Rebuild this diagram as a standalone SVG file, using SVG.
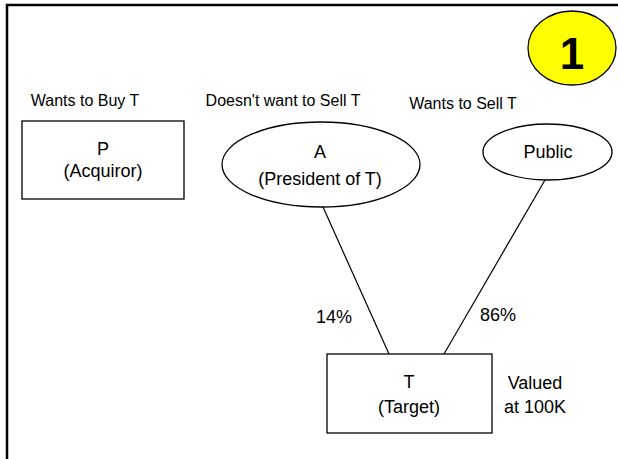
<svg xmlns="http://www.w3.org/2000/svg" width="618" height="459" viewBox="0 0 618 459">
<style>
text{font-family:"Liberation Sans",Arial,sans-serif;fill:#000}
.lbl{font-size:16px}
.nt{font-size:18px;text-anchor:middle}
.box{fill:#fff;stroke:#000;stroke-width:1.3}
.con{stroke:#000;stroke-width:1.2;fill:none}
</style>
<rect x="0" y="0" width="618" height="459" fill="#fff"/>
<rect id="frame" x="7" y="5" width="640" height="480" fill="none" stroke="#000" stroke-width="2.5"/>
<g id="badge">
<ellipse cx="572" cy="48" rx="44" ry="37" fill="#ffff00" stroke="#000" stroke-width="1.3"/>
<text x="572" y="69" font-size="44" font-weight="bold" text-anchor="middle">1</text>
</g>
<g id="labels" class="lbl">
<text x="85" y="106" text-anchor="middle">Wants to Buy T</text>
<text x="283" y="106" text-anchor="middle">Doesn't want to Sell T</text>
<text x="463" y="109" text-anchor="middle">Wants to Sell T</text>
</g>
<g id="connectors">
<line class="con" x1="323" y1="207" x2="389" y2="354"/>
<line class="con" x1="545" y1="180" x2="444" y2="354"/>
<text class="nt" x="334" y="323">14%</text>
<text class="nt" x="498" y="321">86%</text>
</g>
<g id="P">
<rect class="box" x="22" y="121" width="162" height="78"/>
<text class="nt" x="103" y="155">P</text>
<text class="nt" x="103" y="177">(Acquiror)</text>
</g>
<g id="A">
<ellipse class="box" cx="321" cy="164.5" rx="99" ry="42.5"/>
<text class="nt" x="320" y="158">A</text>
<text class="nt" x="320" y="185">(President of T)</text>
</g>
<g id="Public">
<ellipse class="box" cx="547.5" cy="152" rx="64.5" ry="28"/>
<text class="nt" x="548" y="158">Public</text>
</g>
<g id="T">
<rect class="box" x="327" y="354" width="165" height="79"/>
<text class="nt" x="409" y="388">T</text>
<text class="nt" x="409" y="413">(Target)</text>
</g>
<g id="value">
<text class="nt" x="535" y="389">Valued</text>
<text class="nt" x="535" y="413">at 100K</text>
</g>
</svg>
